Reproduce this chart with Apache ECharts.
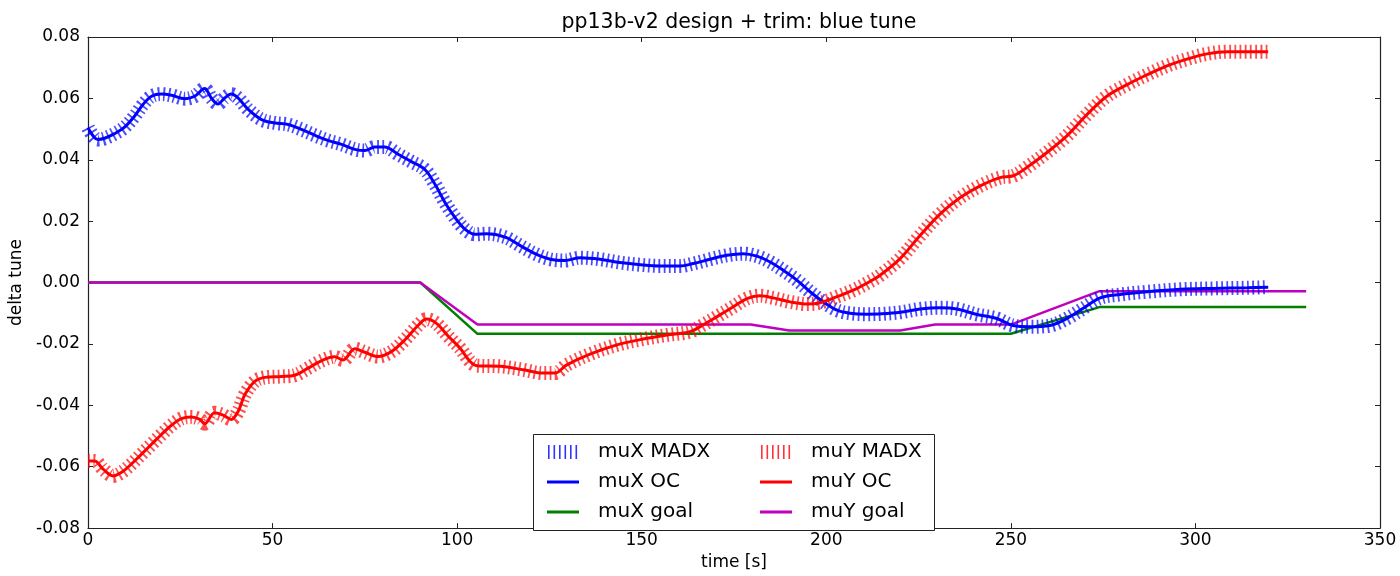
<!DOCTYPE html>
<html>
<head>
<meta charset="utf-8">
<title>pp13b-v2 design + trim: blue tune</title>
<script src="https://cdn.jsdelivr.net/npm/echarts@6/dist/echarts.min.js"></script>
<style>
  html, body { margin: 0; padding: 0; background: #fff; }
  #main { width: 1400px; height: 576px; }
</style>
</head>
<body>
<div id="main"></div>
<script>
// values: time [s] and delta tune
var muxTime = [0, 2.7, 4.5, 7.2, 9.9, 12.6, 14.9, 17.2, 19.9, 22.6, 26.2, 28.9, 31.6, 33.4, 35.2, 37, 38.8, 40.7,
  43.4, 47, 50.6, 54.2, 57.8, 61.4, 65, 68.7, 72.3, 75, 77.7, 80.4, 84, 87.6, 91.2, 94, 96.7, 99.4, 102, 104.8,
  108, 113, 117, 121.1, 125.2, 129.2, 133.3, 138.7, 144.1, 149.6, 155, 160.4, 164, 168.5, 173.1, 177.5, 181.2,
  184.8, 188.3, 192, 195.6, 199.2, 202.9, 206.4, 211, 215, 220, 225.4, 230.8, 235.4, 240.8, 246.2, 250.6, 255.2,
  260.6, 265.2, 269.6, 274.2, 279.6, 286.9, 295.9, 304.9, 314, 319.7];
var muxTune = [0.0505, 0.0466, 0.047, 0.0485, 0.0506, 0.0542, 0.058, 0.0607, 0.0614, 0.061, 0.0599, 0.0607, 0.0632,
  0.0601, 0.0582, 0.0601, 0.0614, 0.0601, 0.0564, 0.0531, 0.052, 0.0515, 0.0499, 0.048, 0.0463, 0.045, 0.0434,
  0.043, 0.0442, 0.0442, 0.0418, 0.0394, 0.0369, 0.032, 0.0261, 0.0212, 0.0175, 0.0157, 0.0159, 0.0148, 0.0121,
  0.0094, 0.0076, 0.0072, 0.0081, 0.0076, 0.0065, 0.0058, 0.0054, 0.0054, 0.0062, 0.0076, 0.0089, 0.0094, 0.0086,
  0.0067, 0.004, 0.0008, -0.003, -0.0063, -0.009, -0.01, -0.0103, -0.0102, -0.0097, -0.0086, -0.0082, -0.0086,
  -0.0104, -0.0117, -0.014, -0.0144, -0.014, -0.0117, -0.0084, -0.005, -0.0039, -0.003, -0.0022, -0.0019,
  -0.0017, -0.0015];

var muyTime = [0, 1.8, 4.1, 6.8, 9, 11.7, 14.5, 17.2, 19.9, 22.6, 25.3, 28, 30.3, 31.6, 34.3, 36.6, 38.8, 40.7,
  42.5, 45.2, 47.9, 52.4, 56, 59.6, 63.2, 66.8, 69.1, 72.3, 75, 78.6, 82.2, 85.8, 89.4, 91.7, 94.4, 97.6, 100.8,
  103.5, 105.4, 111.6, 117.9, 123.3, 126.5, 129.7, 136, 143.3, 150.4, 156.8, 163.1, 166.6, 170.4, 174.8, 178.5,
  182, 185.6, 190.2, 194.8, 198.3, 202.9, 207.3, 211.9, 214.6, 220, 225.4, 230.8, 236.3, 241.7, 247.1, 250.7,
  254.3, 259.7, 265.1, 270.6, 276, 281.5, 286.9, 292.3, 297.7, 303.1, 308.6, 314, 319.7];
var muyTune = [-0.0581, -0.0581, -0.0608, -0.063, -0.0619, -0.0592, -0.0559, -0.0527, -0.0495, -0.0465, -0.0443,
  -0.0438, -0.0446, -0.046, -0.0424, -0.0432, -0.0446, -0.0419, -0.0365, -0.0322, -0.0309, -0.0306, -0.0302,
  -0.0279, -0.0255, -0.0242, -0.0252, -0.0216, -0.0227, -0.0241, -0.0225, -0.0187, -0.014, -0.0119, -0.0133,
  -0.0175, -0.0214, -0.0257, -0.0271, -0.0273, -0.0284, -0.0295, -0.0295, -0.0268, -0.0233, -0.0203, -0.0184,
  -0.0171, -0.016, -0.0138, -0.0111, -0.0079, -0.0052, -0.0043, -0.005, -0.0063, -0.007, -0.0066, -0.0046,
  -0.0025, 0.0004, 0.0024, 0.0078, 0.0153, 0.0223, 0.0277, 0.0315, 0.0342, 0.0348, 0.0375, 0.0423, 0.0477,
  0.0547, 0.0607, 0.0645, 0.0677, 0.0706, 0.0728, 0.0745, 0.0752, 0.0752, 0.0752];

var muxGoalTime = [0, 90, 105.5, 250, 274, 330];
var muxGoal = [0, 0, -0.0167, -0.0167, -0.008, -0.008];
var muyGoalTime = [0, 90, 105.5, 179.5, 190, 220, 229.5, 250, 274, 330];
var muyGoal = [0, 0, -0.0137, -0.0137, -0.0156, -0.0156, -0.0137, -0.0137, -0.0028, -0.0028];

var FONT = 'DejaVu Sans';

function pairs(xs, ys) {
  return xs.map(function (x, i) { return [x, ys[i]]; });
}

// legend icons (corner dots keep the icon box 46x16 so text sits right)
var BOX = 'M0,0h0.01v0.01h-0.01z M46,16h-0.01v-0.01h0.01z ';
var STRIPES = 'path://' + BOX + 'M1,1h1.6v14h-1.6z M6.5,1h1.6v14h-1.6z M12,1h1.6v14h-1.6z M17.5,1h1.6v14h-1.6z M23,1h1.6v14h-1.6z M28.5,1h1.6v14h-1.6z';
var LINE = 'path://' + BOX + 'M0,6.5h32v3h-32z';

function madx(name, color, xs, ys) {
  return {
    name: name, type: 'line', data: pairs(xs, ys), smooth: 0.35, symbol: 'none', z: 2,
    lineStyle: { color: color, width: 14, type: [1.8, 3.4], cap: 'butt', opacity: 0.7 },
    itemStyle: { color: color }
  };
}
function plain(name, color, xs, ys, width, smooth, z) {
  return {
    name: name, type: 'line', data: pairs(xs, ys), smooth: smooth, symbol: 'none', z: z,
    lineStyle: { color: color, width: width },
    itemStyle: { color: color }
  };
}

var legendBase = {
  orient: 'vertical', top: 442, itemWidth: 46, itemHeight: 16, itemGap: 10,
  symbolKeepAspect: true, selectedMode: false, padding: 0, z: 10,
  textStyle: { fontFamily: FONT, fontSize: 20, color: '#000' }
};

var axisCommon = {
  axisLine: { show: true, onZero: false, lineStyle: { color: '#222', width: 1.2 } },
  axisTick: { show: true, inside: true, length: 5, lineStyle: { color: '#222' } },
  splitLine: { show: false }
};

var myChart = echarts.init(document.getElementById('main'));
var option = {
  animation: false,
  backgroundColor: '#fff',
  title: {
    text: 'pp13b-v2 design + trim: blue tune', left: 734, top: 7, textAlign: 'center',
    textStyle: { fontFamily: FONT, fontSize: 20.5, fontWeight: 'normal', color: '#000' }
  },
  grid: { left: 88, right: 20, top: 37, bottom: 45 },
  graphic: [{
    type: 'rect', z: 5,
    shape: { x: 533.5, y: 434.5, width: 401, height: 96 },
    style: { fill: '#fff', stroke: '#222', lineWidth: 1 }
  }],
  legend: [
    Object.assign({}, legendBase, {
      left: 547,
      data: [
        { name: 'muX MADX', icon: STRIPES, itemStyle: { color: 'rgba(0,0,255,0.8)' } },
        { name: 'muX OC', icon: LINE },
        { name: 'muX goal', icon: LINE }
      ]
    }),
    Object.assign({}, legendBase, {
      left: 760,
      data: [
        { name: 'muY MADX', icon: STRIPES, itemStyle: { color: 'rgba(255,0,0,0.8)' } },
        { name: 'muY OC', icon: LINE },
        { name: 'muY goal', icon: LINE }
      ]
    })
  ],
  xAxis: [
    Object.assign({}, axisCommon, {
      type: 'value', min: 0, max: 350, interval: 50, position: 'bottom',
      name: 'time [s]', nameLocation: 'middle', nameGap: 21,
      nameTextStyle: { fontFamily: FONT, fontSize: 17, color: '#000' },
      axisLabel: { fontFamily: FONT, fontSize: 17, color: '#000', margin: 4 }
    }),
    Object.assign({}, axisCommon, {
      type: 'value', min: 0, max: 350, interval: 50, position: 'top',
      axisLabel: { show: false }
    })
  ],
  yAxis: [
    Object.assign({}, axisCommon, {
      type: 'value', min: -0.08, max: 0.08, interval: 0.02, position: 'left',
      name: 'delta tune', nameLocation: 'middle', nameGap: 61, nameRotate: 90,
      nameTextStyle: { fontFamily: FONT, fontSize: 17, color: '#000' },
      axisLabel: {
        fontFamily: FONT, fontSize: 17, color: '#000', margin: 8,
        formatter: function (v) { return v.toFixed(2); }
      }
    }),
    Object.assign({}, axisCommon, {
      type: 'value', min: -0.08, max: 0.08, interval: 0.02, position: 'right',
      axisLabel: { show: false }
    })
  ],
  series: [
    madx('muX MADX', '#0000ff', muxTime, muxTune),
    plain('muX OC', '#0000ff', muxTime, muxTune, 3, 0.35, 3),
    plain('muX goal', '#008000', muxGoalTime, muxGoal, 2.5, false, 1),
    madx('muY MADX', '#ff0000', muyTime, muyTune),
    plain('muY OC', '#ff0000', muyTime, muyTune, 3, 0.35, 3),
    plain('muY goal', '#bf00bf', muyGoalTime, muyGoal, 2.5, false, 1)
  ]
};
myChart.setOption(option);
window.onresize = myChart.resize;
</script>
</body>
</html>
